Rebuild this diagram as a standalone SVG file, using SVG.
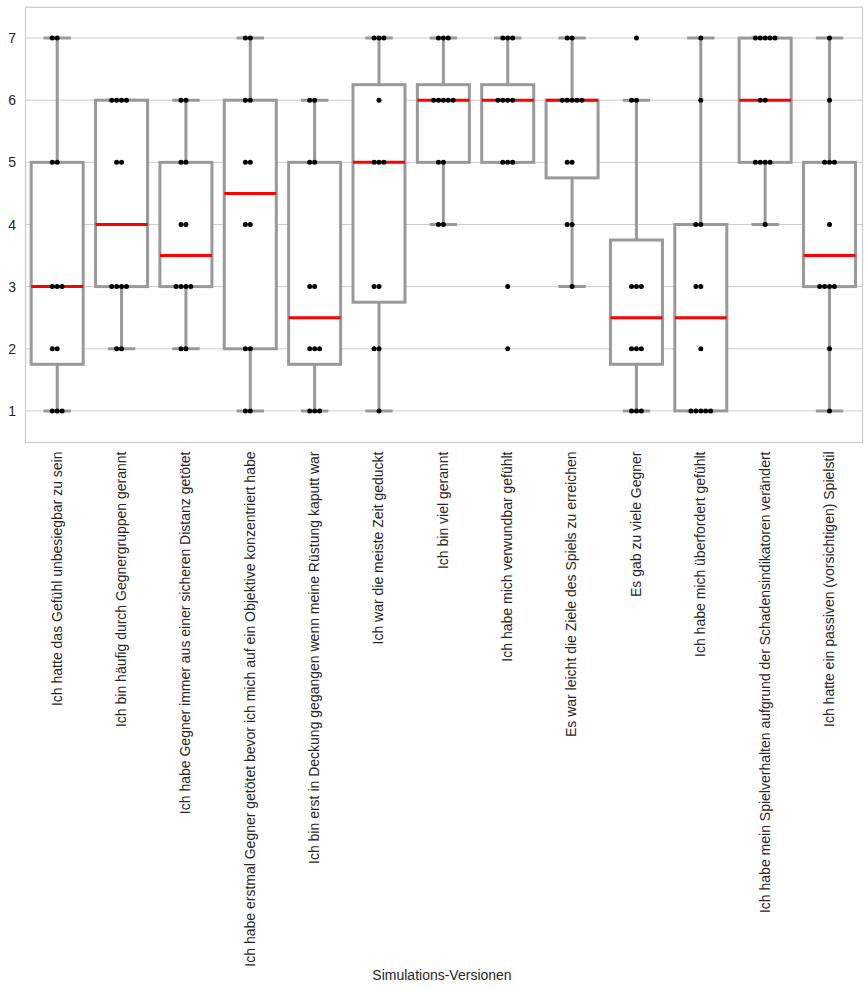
<svg xmlns="http://www.w3.org/2000/svg" width="868" height="990" viewBox="0 0 868 990">
<style>
.grid{stroke:#cccccc;stroke-width:1;fill:none}
.frame{stroke:#cccccc;stroke-width:1.25;fill:none}
.box{stroke:#999999;stroke-width:3;fill:#ffffff}
.wh{stroke:#999999;stroke-width:3;fill:none}
.med{stroke:#ff0000;stroke-width:3}
.dots circle{fill:#000000}
.tick{font-family:"Liberation Sans",Arial,sans-serif;font-size:14px;fill:#262626}
.xl{font-family:"Liberation Sans",Arial,sans-serif;font-size:14px;fill:#262626}
</style>
<rect x="0" y="0" width="868" height="990" fill="#ffffff"/>
<g id="grid">
<line class="grid" x1="25.5" x2="862.5" y1="38.07" y2="38.07"/>
<line class="grid" x1="25.5" x2="862.5" y1="100.2" y2="100.2"/>
<line class="grid" x1="25.5" x2="862.5" y1="162.35" y2="162.35"/>
<line class="grid" x1="25.5" x2="862.5" y1="224.5" y2="224.5"/>
<line class="grid" x1="25.5" x2="862.5" y1="286.6" y2="286.6"/>
<line class="grid" x1="25.5" x2="862.5" y1="348.8" y2="348.8"/>
<line class="grid" x1="25.5" x2="862.5" y1="410.9" y2="410.9"/>
</g>
<g id="y-axis" class="tick" text-anchor="end">
<text x="16" y="43.1">7</text>
<text x="16" y="105.2">6</text>
<text x="16" y="167.4">5</text>
<text x="16" y="229.5">4</text>
<text x="16" y="291.6">3</text>
<text x="16" y="353.8">2</text>
<text x="16" y="415.9">1</text>
</g>
<g id="connectors">
<path class="wh" d="M57.2 162.35V38.07M57.2 364.3V410.9M43.5 38.07H70.9M43.5 410.9H70.9"/>
<path class="wh" d="M121.56 286.6V348.8M107.86 348.8H135.26M107.86 100.2H135.26"/>
<path class="wh" d="M185.92 162.35V100.2M185.92 286.6V348.8M172.22 100.2H199.62M172.22 348.8H199.62"/>
<path class="wh" d="M250.28 100.2V38.07M250.28 348.8V410.9M236.58 38.07H263.98M236.58 410.9H263.98"/>
<path class="wh" d="M314.64 162.35V100.2M314.64 364.3V410.9M300.94 100.2H328.34M300.94 410.9H328.34"/>
<path class="wh" d="M379 84.7V38.07M379 302.2V410.9M365.3 38.07H392.7M365.3 410.9H392.7"/>
<path class="wh" d="M443.36 84.7V38.07M443.36 162.35V224.5M429.66 38.07H457.06M429.66 224.5H457.06"/>
<path class="wh" d="M507.72 84.7V38.07M494.02 38.07H521.42M494.02 162.35H521.42"/>
<path class="wh" d="M572.08 100.2V38.07M572.08 177.9V286.6M558.38 38.07H585.78M558.38 286.6H585.78"/>
<path class="wh" d="M636.44 240V100.2M636.44 364.3V410.9M622.74 100.2H650.14M622.74 410.9H650.14"/>
<path class="wh" d="M700.8 224.5V38.07M687.1 38.07H714.5M687.1 410.9H714.5"/>
<path class="wh" d="M765.16 162.35V224.5M751.46 224.5H778.86M751.46 38.07H778.86"/>
<path class="wh" d="M829.52 162.35V38.07M829.52 286.6V410.9M815.82 38.07H843.22M815.82 410.9H843.22"/>
</g>
<g id="box-0"><rect class="box" x="31.2" y="162.35" width="52" height="201.95"/><line class="med" x1="31.2" x2="83.2" y1="286.6" y2="286.6"/>
<g class="dots"><circle cx="52.3" cy="38.07" r="2.5"/><circle cx="57.2" cy="38.07" r="2.5"/><circle cx="52.3" cy="162.35" r="2.5"/><circle cx="57.2" cy="162.35" r="2.5"/><circle cx="52.3" cy="286.6" r="2.5"/><circle cx="57.2" cy="286.6" r="2.5"/><circle cx="62.1" cy="286.6" r="2.5"/><circle cx="52.3" cy="348.8" r="2.5"/><circle cx="57.2" cy="348.8" r="2.5"/><circle cx="52.3" cy="410.9" r="2.5"/><circle cx="57.2" cy="410.9" r="2.5"/><circle cx="62.1" cy="410.9" r="2.5"/></g></g>
<g id="box-1"><rect class="box" x="95.56" y="100.2" width="52" height="186.4"/><line class="med" x1="95.56" x2="147.56" y1="224.5" y2="224.5"/>
<g class="dots"><circle cx="111.76" cy="100.2" r="2.5"/><circle cx="116.66" cy="100.2" r="2.5"/><circle cx="121.56" cy="100.2" r="2.5"/><circle cx="126.46" cy="100.2" r="2.5"/><circle cx="116.66" cy="162.35" r="2.5"/><circle cx="121.56" cy="162.35" r="2.5"/><circle cx="111.76" cy="286.6" r="2.5"/><circle cx="116.66" cy="286.6" r="2.5"/><circle cx="121.56" cy="286.6" r="2.5"/><circle cx="126.46" cy="286.6" r="2.5"/><circle cx="116.66" cy="348.8" r="2.5"/><circle cx="121.56" cy="348.8" r="2.5"/></g></g>
<g id="box-2"><rect class="box" x="159.92" y="162.35" width="52" height="124.25"/><line class="med" x1="159.92" x2="211.92" y1="255.6" y2="255.6"/>
<g class="dots"><circle cx="181.02" cy="100.2" r="2.5"/><circle cx="185.92" cy="100.2" r="2.5"/><circle cx="181.02" cy="162.35" r="2.5"/><circle cx="185.92" cy="162.35" r="2.5"/><circle cx="181.02" cy="224.5" r="2.5"/><circle cx="185.92" cy="224.5" r="2.5"/><circle cx="176.12" cy="286.6" r="2.5"/><circle cx="181.02" cy="286.6" r="2.5"/><circle cx="185.92" cy="286.6" r="2.5"/><circle cx="190.82" cy="286.6" r="2.5"/><circle cx="181.02" cy="348.8" r="2.5"/><circle cx="185.92" cy="348.8" r="2.5"/></g></g>
<g id="box-3"><rect class="box" x="224.28" y="100.2" width="52" height="248.6"/><line class="med" x1="224.28" x2="276.28" y1="193.4" y2="193.4"/>
<g class="dots"><circle cx="245.38" cy="38.07" r="2.5"/><circle cx="250.28" cy="38.07" r="2.5"/><circle cx="245.38" cy="100.2" r="2.5"/><circle cx="250.28" cy="100.2" r="2.5"/><circle cx="245.38" cy="162.35" r="2.5"/><circle cx="250.28" cy="162.35" r="2.5"/><circle cx="245.38" cy="224.5" r="2.5"/><circle cx="250.28" cy="224.5" r="2.5"/><circle cx="245.38" cy="348.8" r="2.5"/><circle cx="250.28" cy="348.8" r="2.5"/><circle cx="245.38" cy="410.9" r="2.5"/><circle cx="250.28" cy="410.9" r="2.5"/></g></g>
<g id="box-4"><rect class="box" x="288.64" y="162.35" width="52" height="201.95"/><line class="med" x1="288.64" x2="340.64" y1="317.7" y2="317.7"/>
<g class="dots"><circle cx="309.74" cy="100.2" r="2.5"/><circle cx="314.64" cy="100.2" r="2.5"/><circle cx="309.74" cy="162.35" r="2.5"/><circle cx="314.64" cy="162.35" r="2.5"/><circle cx="309.74" cy="286.6" r="2.5"/><circle cx="314.64" cy="286.6" r="2.5"/><circle cx="309.74" cy="348.8" r="2.5"/><circle cx="314.64" cy="348.8" r="2.5"/><circle cx="319.54" cy="348.8" r="2.5"/><circle cx="309.74" cy="410.9" r="2.5"/><circle cx="314.64" cy="410.9" r="2.5"/><circle cx="319.54" cy="410.9" r="2.5"/></g></g>
<g id="box-5"><rect class="box" x="353" y="84.7" width="52" height="217.5"/><line class="med" x1="353" x2="405" y1="162.35" y2="162.35"/>
<g class="dots"><circle cx="374.1" cy="38.07" r="2.5"/><circle cx="379" cy="38.07" r="2.5"/><circle cx="383.9" cy="38.07" r="2.5"/><circle cx="379" cy="100.2" r="2.5"/><circle cx="374.1" cy="162.35" r="2.5"/><circle cx="379" cy="162.35" r="2.5"/><circle cx="383.9" cy="162.35" r="2.5"/><circle cx="374.1" cy="286.6" r="2.5"/><circle cx="379" cy="286.6" r="2.5"/><circle cx="374.1" cy="348.8" r="2.5"/><circle cx="379" cy="348.8" r="2.5"/><circle cx="379" cy="410.9" r="2.5"/></g></g>
<g id="box-6"><rect class="box" x="417.36" y="84.7" width="52" height="77.65"/><line class="med" x1="417.36" x2="469.36" y1="100.2" y2="100.2"/>
<g class="dots"><circle cx="438.46" cy="38.07" r="2.5"/><circle cx="443.36" cy="38.07" r="2.5"/><circle cx="448.26" cy="38.07" r="2.5"/><circle cx="433.56" cy="100.2" r="2.5"/><circle cx="438.46" cy="100.2" r="2.5"/><circle cx="443.36" cy="100.2" r="2.5"/><circle cx="448.26" cy="100.2" r="2.5"/><circle cx="453.16" cy="100.2" r="2.5"/><circle cx="438.46" cy="162.35" r="2.5"/><circle cx="443.36" cy="162.35" r="2.5"/><circle cx="438.46" cy="224.5" r="2.5"/><circle cx="443.36" cy="224.5" r="2.5"/></g></g>
<g id="box-7"><rect class="box" x="481.72" y="84.7" width="52" height="77.65"/><line class="med" x1="481.72" x2="533.72" y1="100.2" y2="100.2"/>
<g class="dots"><circle cx="502.82" cy="38.07" r="2.5"/><circle cx="507.72" cy="38.07" r="2.5"/><circle cx="512.62" cy="38.07" r="2.5"/><circle cx="497.92" cy="100.2" r="2.5"/><circle cx="502.82" cy="100.2" r="2.5"/><circle cx="507.72" cy="100.2" r="2.5"/><circle cx="512.62" cy="100.2" r="2.5"/><circle cx="502.82" cy="162.35" r="2.5"/><circle cx="507.72" cy="162.35" r="2.5"/><circle cx="512.62" cy="162.35" r="2.5"/><circle cx="507.72" cy="286.6" r="2.5"/><circle cx="507.72" cy="348.8" r="2.5"/></g></g>
<g id="box-8"><rect class="box" x="546.08" y="100.2" width="52" height="77.7"/><line class="med" x1="546.08" x2="598.08" y1="100.2" y2="100.2"/>
<g class="dots"><circle cx="567.18" cy="38.07" r="2.5"/><circle cx="572.08" cy="38.07" r="2.5"/><circle cx="562.28" cy="100.2" r="2.5"/><circle cx="567.18" cy="100.2" r="2.5"/><circle cx="572.08" cy="100.2" r="2.5"/><circle cx="576.98" cy="100.2" r="2.5"/><circle cx="581.88" cy="100.2" r="2.5"/><circle cx="567.18" cy="162.35" r="2.5"/><circle cx="572.08" cy="162.35" r="2.5"/><circle cx="567.18" cy="224.5" r="2.5"/><circle cx="572.08" cy="224.5" r="2.5"/><circle cx="572.08" cy="286.6" r="2.5"/></g></g>
<g id="box-9"><rect class="box" x="610.44" y="240" width="52" height="124.3"/><line class="med" x1="610.44" x2="662.44" y1="317.7" y2="317.7"/>
<g class="dots"><circle cx="636.44" cy="38.07" r="2.5"/><circle cx="631.54" cy="100.2" r="2.5"/><circle cx="636.44" cy="100.2" r="2.5"/><circle cx="631.54" cy="286.6" r="2.5"/><circle cx="636.44" cy="286.6" r="2.5"/><circle cx="641.34" cy="286.6" r="2.5"/><circle cx="631.54" cy="348.8" r="2.5"/><circle cx="636.44" cy="348.8" r="2.5"/><circle cx="641.34" cy="348.8" r="2.5"/><circle cx="631.54" cy="410.9" r="2.5"/><circle cx="636.44" cy="410.9" r="2.5"/><circle cx="641.34" cy="410.9" r="2.5"/></g></g>
<g id="box-10"><rect class="box" x="674.8" y="224.5" width="52" height="186.4"/><line class="med" x1="674.8" x2="726.8" y1="317.7" y2="317.7"/>
<g class="dots"><circle cx="700.8" cy="38.07" r="2.5"/><circle cx="700.8" cy="100.2" r="2.5"/><circle cx="695.9" cy="224.5" r="2.5"/><circle cx="700.8" cy="224.5" r="2.5"/><circle cx="695.9" cy="286.6" r="2.5"/><circle cx="700.8" cy="286.6" r="2.5"/><circle cx="700.8" cy="348.8" r="2.5"/><circle cx="691" cy="410.9" r="2.5"/><circle cx="695.9" cy="410.9" r="2.5"/><circle cx="700.8" cy="410.9" r="2.5"/><circle cx="705.7" cy="410.9" r="2.5"/><circle cx="710.6" cy="410.9" r="2.5"/></g></g>
<g id="box-11"><rect class="box" x="739.16" y="38.07" width="52" height="124.28"/><line class="med" x1="739.16" x2="791.16" y1="100.2" y2="100.2"/>
<g class="dots"><circle cx="755.36" cy="38.07" r="2.5"/><circle cx="760.26" cy="38.07" r="2.5"/><circle cx="765.16" cy="38.07" r="2.5"/><circle cx="770.06" cy="38.07" r="2.5"/><circle cx="774.96" cy="38.07" r="2.5"/><circle cx="760.26" cy="100.2" r="2.5"/><circle cx="765.16" cy="100.2" r="2.5"/><circle cx="755.36" cy="162.35" r="2.5"/><circle cx="760.26" cy="162.35" r="2.5"/><circle cx="765.16" cy="162.35" r="2.5"/><circle cx="770.06" cy="162.35" r="2.5"/><circle cx="765.16" cy="224.5" r="2.5"/></g></g>
<g id="box-12"><rect class="box" x="803.52" y="162.35" width="52" height="124.25"/><line class="med" x1="803.52" x2="855.52" y1="255.6" y2="255.6"/>
<g class="dots"><circle cx="829.52" cy="38.07" r="2.5"/><circle cx="829.52" cy="100.2" r="2.5"/><circle cx="824.62" cy="162.35" r="2.5"/><circle cx="829.52" cy="162.35" r="2.5"/><circle cx="834.42" cy="162.35" r="2.5"/><circle cx="829.52" cy="224.5" r="2.5"/><circle cx="819.72" cy="286.6" r="2.5"/><circle cx="824.62" cy="286.6" r="2.5"/><circle cx="829.52" cy="286.6" r="2.5"/><circle cx="834.42" cy="286.6" r="2.5"/><circle cx="829.52" cy="348.8" r="2.5"/><circle cx="829.52" cy="410.9" r="2.5"/></g></g>
<rect id="frame" class="frame" x="25.5" y="7.2" width="837" height="435.3"/>
<g id="x-axis" class="tick" text-anchor="end">
<text transform="translate(61.6,451.5) rotate(-90)">Ich hatte das Gefühl unbesiegbar zu sein</text>
<text transform="translate(125.96,451.5) rotate(-90)">Ich bin häufig durch Gegnergruppen gerannt</text>
<text transform="translate(190.32,451.5) rotate(-90)">Ich habe Gegner immer aus einer sicheren Distanz getötet</text>
<text transform="translate(254.68,451.5) rotate(-90)">Ich habe erstmal Gegner getötet bevor ich mich auf ein Objektive konzentriert habe</text>
<text transform="translate(319.04,451.5) rotate(-90)">Ich bin erst in Deckung gegangen wenn meine Rüstung kaputt war</text>
<text transform="translate(383.4,451.5) rotate(-90)">Ich war die meiste Zeit geduckt</text>
<text transform="translate(447.76,451.5) rotate(-90)">Ich bin viel gerannt</text>
<text transform="translate(512.12,451.5) rotate(-90)">Ich habe mich verwundbar gefühlt</text>
<text transform="translate(576.48,451.5) rotate(-90)">Es war leicht die Ziele des Spiels zu erreichen</text>
<text transform="translate(640.84,451.5) rotate(-90)">Es gab zu viele Gegner</text>
<text transform="translate(705.2,451.5) rotate(-90)">Ich habe mich überfordert gefühlt</text>
<text transform="translate(769.56,451.5) rotate(-90)">Ich habe mein Spielverhalten aufgrund der Schadensindikatoren verändert</text>
<text transform="translate(833.92,451.5) rotate(-90)">Ich hatte ein passiven (vorsichtigen) Spielstil</text>
</g>
<text id="x-label" class="xl" x="442" y="980" text-anchor="middle">Simulations-Versionen</text>
</svg>
